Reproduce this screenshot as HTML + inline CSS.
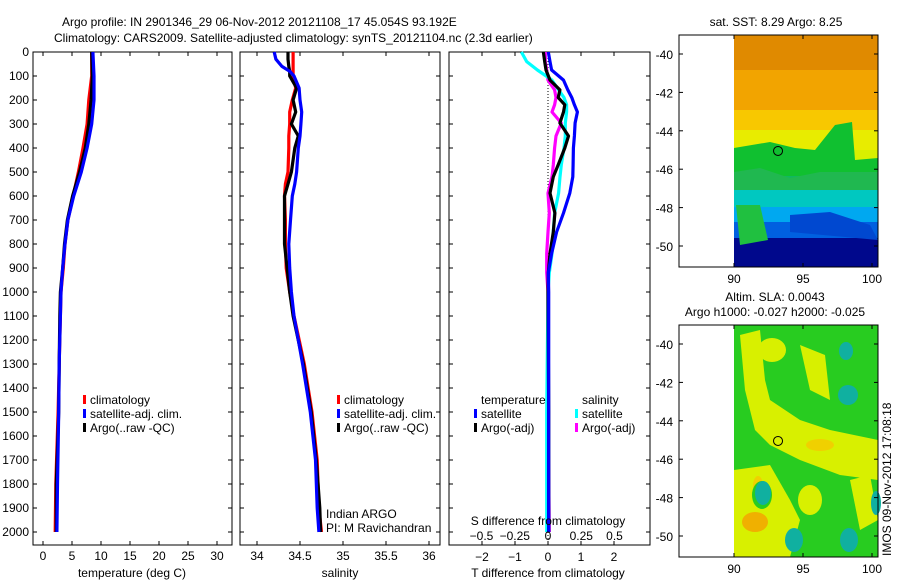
<!DOCTYPE html>
<html><head><meta charset="utf-8"><style>
body{margin:0;background:#fff}
svg{display:block;font-family:"Liberation Sans",sans-serif;font-size:12px}
</style></head><body>
<svg id="c" width="900" height="580" viewBox="0 0 900 580">
<text x="62" y="26">Argo profile: IN 2901346_29 06-Nov-2012 20121108_17 45.054S 93.192E</text>
<text x="54" y="42">Climatology: CARS2009. Satellite-adjusted climatology: synTS_20121104.nc (2.3d earlier)</text>
<g id="maps"></g>
<g id="plots"></g>
</svg>
<script>
// ---- data ----
const tDepth = [0,100,200,300,400,500,600,700,800,900,1000,1100,1300,1500,1800,2000];
const tClim  = [8.4,8.4,7.9,7.6,6.9,6.1,5.2,4.3,3.8,3.5,3.1,3.0,2.8,2.6,2.2,2.1];
const tSat   = [8.6,8.8,8.8,8.4,7.6,6.6,5.3,4.3,3.8,3.4,3.1,3.0,2.8,2.7,2.5,2.4];
const tArgo  = [8.4,8.5,8.3,7.9,7.3,6.3,5.1,4.2,3.7,3.4,3.0,2.9,2.8,2.7,2.3,2.3];
const sDepth = [0,30,60,80,100,150,200,250,300,350,400,500,550,600,700,800,900,1000,1100,1300,1500,1700,1900,2000];
const sClim  = [34.42,34.42,34.42,34.42,34.42,34.45,34.41,34.38,34.38,34.37,34.37,34.36,34.33,34.32,34.33,34.33,34.34,34.38,34.43,34.55,34.64,34.70,34.72,34.75];
const sSat   = [34.20,34.22,34.29,34.38,34.43,34.49,34.50,34.52,34.51,34.50,34.48,34.46,34.44,34.41,34.39,34.37,34.38,34.40,34.43,34.53,34.62,34.68,34.70,34.72];
const sArgo  = [34.36,34.36,34.37,34.38,34.38,34.46,34.42,34.45,34.40,34.48,34.44,34.40,34.36,34.32,34.32,34.32,34.35,34.38,34.42,34.54,34.63,34.69,34.73,34.74];
const dDepth = [0,40,75,117,158,190,220,250,296,350,400,470,520,588,671,750,840,920,1000,1500,2000];
const dTSat  = [0.01,0.06,0.11,0.47,0.60,0.72,0.80,0.89,0.82,0.80,0.77,0.76,0.75,0.66,0.47,0.26,0.11,0.01,0.02,0.02,0.02];
const dTArgo = [-0.14,-0.10,-0.06,0.06,0.36,0.31,0.51,0.47,0.36,0.62,0.51,0.31,0.16,0.06,0.21,0.16,0.06,0.01,0.0,0.02,0.02];
const dSSat  = [-0.20,-0.16,-0.08,0.03,0.08,0.12,0.14,0.14,0.13,0.13,0.12,0.10,0.09,0.08,0.05,0.04,0.03,0.01,0.0,-0.01,-0.01];
const dSArgo = [-0.02,-0.02,-0.01,0.0,0.05,0.06,0.05,0.03,0.10,0.06,0.05,0.04,0.03,0.0,0.01,0.0,-0.01,-0.01,0.0,0.0,0.01];
const depthTicks = [0,100,200,300,400,500,600,700,800,900,1000,1100,1200,1300,1400,1500,1600,1700,1800,1900,2000];
const tTicks = [0,5,10,15,20,25,30];
const sTicks = [34,34.5,35,35.5,36];
const sTickLabels = ["34","34.5","35","35.5","36"];
const dTTicks = [-2,-1,0,1,2];
const dSTicks = [-0.5,-0.25,0,0.25,0.5];
const dSTickLabels = ["\u22120.5","\u22120.25","0","0.25","0.5"];
const latTicks = [-40,-42,-44,-46,-48,-50];
const lonTicks = [90,95,100];

const NS="http://www.w3.org/2000/svg";
const plots=document.getElementById('plots');
function mk(tag,attrs,parent){const e=document.createElementNS(NS,tag);for(const k in attrs)e.setAttribute(k,attrs[k]);(parent||plots).appendChild(e);return e;}
function txt(x,y,s,anchor,parent){const e=mk('text',{x:x,y:y,'text-anchor':anchor||'start'},parent);e.textContent=s;return e;}
const yD=d=>52+d*0.24;
const xT=t=>43+5.8*t;
const xS=s=>257+86*(s-34);
const xDT=t=>548+33*t;
const xDS=s=>548+133*s;
const TOP=52,BOT=545;

function frame(x0,x1,name){
  const r=mk('rect',{x:x0,y:TOP,width:x1-x0,height:BOT-TOP,fill:'none',stroke:'#000','stroke-width':1});
  
  
  depthTicks.forEach(d=>{mk('line',{x1:x0,x2:x0+4,y1:yD(d),y2:yD(d),stroke:'#000'});mk('line',{x1:x1,x2:x1-4,y1:yD(d),y2:yD(d),stroke:'#000'});});
}
function xticks(pos){pos.forEach(x=>{mk('line',{x1:x,x2:x,y1:BOT,y2:BOT-4,stroke:'#000'});mk('line',{x1:x,x2:x,y1:TOP,y2:TOP+4,stroke:'#000'});});}
function stepLine(xs,ds,xf,color,name,w){
  let p='';
  for(let i=0;i<ds.length;i++){const x=xf(xs[i]),y=yD(ds[i]);p+=(i?'L':'M')+x.toFixed(1)+','+y.toFixed(1);}
  const e=mk('path',{d:p,fill:'none',stroke:color,'stroke-width':w||3.2,'stroke-linejoin':'round'});
  
  
}

// Panel 1 temperature
frame(33,232,'temperature-panel');
depthTicks.forEach(d=>{const t=txt(29,yD(d)+4,String(d),'end');});
xticks(tTicks.map(xT));
tTicks.forEach(v=>{const t=txt(xT(v),560,String(v),'middle');});
let l=txt(132,577,'temperature (deg C)','middle');
stepLine(tClim,tDepth,xT,'#f00','temp-climatology-line');
stepLine(tArgo,tDepth,xT,'#000','temp-argo-line');
stepLine(tSat,tDepth,xT,'#00f','temp-satellite-line');

// Panel 2 salinity
frame(240,440,'salinity-panel');
xticks(sTicks.map(xS));
sTicks.forEach((v,i)=>{const t=txt(xS(v),560,sTickLabels[i],'middle');});
l=txt(340,577,'salinity','middle');
stepLine(sClim,sDepth,xS,'#f00','sal-climatology-line');
stepLine(sArgo,sDepth,xS,'#000','sal-argo-line');
stepLine(sSat,sDepth,xS,'#00f','sal-satellite-line');
l=txt(326,518,'Indian ARGO');
l=txt(326,532,'PI: M Ravichandran');

// Panel 3 differences
frame(449,650,'difference-panel');
xticks(dTTicks.map(xDT));
mk('line',{x1:548,x2:548,y1:TOP,y2:BOT,stroke:'#000','stroke-dasharray':'1,2'});
stepLine(dSArgo,dDepth,xDS,'#f0f','sdiff-argo-line');
stepLine(dSSat,dDepth,xDS,'#0ff','sdiff-satellite-line');
stepLine(dTArgo,dDepth,xDT,'#000','tdiff-argo-line');
stepLine(dTSat,dDepth,xDT,'#00f','tdiff-satellite-line');
dTTicks.forEach(v=>{const t=txt(xDT(v),561,v<0?'\u2212'+(-v):String(v),'middle');});
dSTicks.forEach((v,i)=>{const t=txt(xDS(v),540,dSTickLabels[i],'middle');});
l=txt(548,525,'S difference from climatology','middle');
l=txt(548,577,'T difference from climatology','middle');

// legends
function legend(x,y,color,label,name){
  const g=mk('g',{});
  
  
  mk('rect',{x:x,y:y-9,width:3,height:9,fill:color},g);
  txt(x+7,y,label,'start',g);
}
legend(83,404,'#f00','climatology','legend-temp-climatology');
legend(83,418,'#00f','satellite-adj. clim.','legend-temp-satellite');
legend(83,432,'#000','Argo(..raw -QC)','legend-temp-argo');
legend(337,404,'#f00','climatology','legend-sal-climatology');
legend(337,418,'#00f','satellite-adj. clim.','legend-sal-satellite');
legend(337,432,'#000','Argo(..raw -QC)','legend-sal-argo');
l=txt(481,404,'temperature');
legend(474,418,'#00f','satellite','legend-tdiff-satellite');
legend(474,432,'#000','Argo(-adj)','legend-tdiff-argo');
l=txt(582,404,'salinity');
legend(575,418,'#0ff','satellite','legend-sdiff-satellite');
legend(575,432,'#f0f','Argo(-adj)','legend-sdiff-argo');

// ---- maps ----
const maps=document.getElementById('maps');
function mapFrame(y0,y1,name,fill){
  const lonX=v=>734+(v-90)*13.8;
  const latY=v=>y0+19+(-40-v)*(y1-y0-40)/10;
  const g=mk('g',{},maps);
  
  
  fill(g,lonX,latY);
  mk('rect',{x:679,y:y0,width:199,height:y1-y0,fill:'none',stroke:'#000'},g);
  latTicks.forEach(v=>{const y=latY(v);mk('line',{x1:679,x2:683,y1:y,y2:y,stroke:'#000'},g);mk('line',{x1:878,x2:874,y1:y,y2:y,stroke:'#000'},g);txt(673,y+5,String(v),'end',g);});
  lonTicks.forEach(v=>{const x=lonX(v);mk('line',{x1:x,x2:x,y1:y0,y2:y0+4,stroke:'#000'},g);mk('line',{x1:x,x2:x,y1:y1,y2:y1-4,stroke:'#000'},g);txt(x,y1+16,String(v),'middle',g);});
  mk('circle',{cx:lonX(93.19),cy:latY(-45.05),r:4.5,fill:'none',stroke:'#000'},g);
}
mapFrame(35,267,'sst-map',(g)=>{
  const bands=[[35,70,'#e08a00'],[70,110,'#f2a400'],[110,130,'#f8c800'],[130,150,'#e8ec00'],[150,176,'#d8f000'],[176,190,'#10b860'],[190,207,'#00c8c0'],[207,222,'#00a8f0'],[222,238,'#0060e0'],[238,267,'#00088c']];
  bands.forEach(b=>mk('rect',{x:734,y:b[0],width:144,height:b[1]-b[0],fill:b[2]},g));
  mk('path',{d:'M734,148 L770,142 L795,148 L815,150 L835,125 L852,122 L855,160 L878,158 L878,176 L734,176Z',fill:'#10c030'},g);
  mk('path',{d:'M734,172 L760,168 L790,178 L820,172 L878,172 L878,190 L734,190Z',fill:'#20b850'},g);
  mk('path',{d:'M736,205 L760,205 L768,240 L740,245 Z',fill:'#20c040'},g);
  mk('path',{d:'M790,215 L830,212 L870,225 L878,240 L790,232Z',fill:'#0048d0'},g);
});
mapFrame(325,557,'sla-map',(g)=>{
  mk('rect',{x:734,y:325,width:144,height:232,fill:'#28cc20'},g);
  const yel='#d8f000';
  mk('path',{d:'M740,335 L760,330 L765,380 L770,400 L800,420 L830,430 L878,440 L878,480 L840,475 L800,460 L770,445 L755,430 L745,390 Z',fill:yel},g);
  mk('path',{d:'M734,470 L770,465 L790,500 L800,520 L790,557 L734,557 Z',fill:yel},g);
  mk('path',{d:'M800,345 L825,355 L830,400 L810,390 Z',fill:yel},g);
  mk('path',{d:'M850,480 L870,475 L878,520 L860,530 Z',fill:yel},g);
  mk('ellipse',{cx:810,cy:500,rx:12,ry:15,fill:yel},g);
  mk('ellipse',{cx:772,cy:350,rx:14,ry:12,fill:yel},g);
  mk('ellipse',{cx:755,cy:522,rx:13,ry:10,fill:'#f0b000'},g);
  mk('ellipse',{cx:758,cy:486,rx:5,ry:10,fill:'#f0d000'},g);
  mk('ellipse',{cx:820,cy:445,rx:14,ry:6,fill:'#f0d000'},g);
  mk('ellipse',{cx:762,cy:495,rx:10,ry:14,fill:'#28cc20'},g);
  const teal=[[763,493,8,12],[794,540,9,12],[846,351,7,9],[848,395,10,10],[849,540,9,12],[876,503,5,12]];
  teal.forEach(e=>mk('ellipse',{cx:e[0],cy:e[1],rx:e[2],ry:e[3],fill:'#10b0a0'},g));
});
l=txt(776,26,'sat. SST: 8.29 Argo: 8.25','middle',maps);
l=txt(775,301,'Altim. SLA: 0.0043','middle',maps);
l=txt(775,316,'Argo h1000: -0.027 h2000: -0.025','middle',maps);
l=txt(0,0,'IMOS 09-Nov-2012 17:08:18','start',maps);l.setAttribute('transform','translate(891,556) rotate(-90)');
</script>
</body></html>
